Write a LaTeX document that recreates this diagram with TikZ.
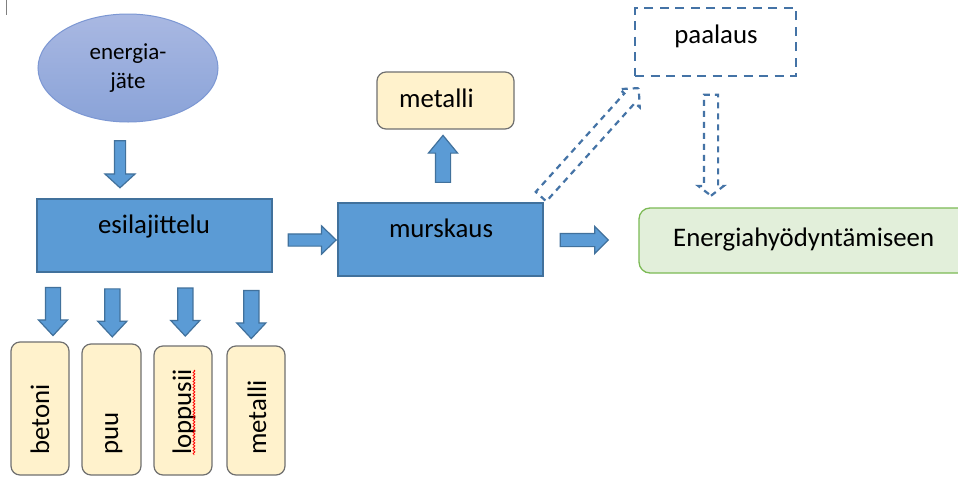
\documentclass[tikz,border=0pt]{standalone}
\usepackage{fontspec}
\setmainfont{Carlito}
\usetikzlibrary{shapes.geometric,shapes.arrows,decorations.pathmorphing}
\definecolor{boxblue}{HTML}{5B9BD5}
\definecolor{edgeblue}{HTML}{41719C}
\definecolor{cream}{HTML}{FFF2CC}
\definecolor{creamedge}{HTML}{707070}
\definecolor{lightgreen}{HTML}{E2EFDA}
\definecolor{greenedge}{HTML}{7CBA55}
\definecolor{elltop}{HTML}{A9B8E2}
\definecolor{ellbot}{HTML}{8AA3D8}
\definecolor{elledge}{HTML}{7C97D3}
\definecolor{dashblue}{HTML}{4473A6}
\begin{document}
\begin{tikzpicture}[x=1pt,y=-1pt,
  bluebox/.style={rectangle, draw=edgeblue, fill=boxblue, line width=1.6pt, inner sep=0pt},
  creambox/.style={rectangle, rounded corners=9pt, draw=creamedge, fill=cream, line width=1.2pt, inner sep=0pt},
  txt/.style={font=\fontsize{26.8}{30}\selectfont, inner sep=0pt, anchor=base},
  vtxt/.style={font=\fontsize{26.8}{30}\selectfont, inner sep=0pt, anchor=base west, rotate=90},
  barrow/.style={single arrow, draw=edgeblue, fill=boxblue, line width=1.2pt, inner xsep=0pt, text height=0pt, text depth=0pt, single arrow head indent=0pt},
  darrow/.style={single arrow, draw=dashblue, line width=2.2pt, dash pattern=on 6pt off 5pt, inner xsep=0pt, text height=0pt, text depth=0pt, single arrow head indent=0pt}
]
\useasboundingbox (0,0) rectangle (958,477);
\clip (0,0) rectangle (958,477);
\fill[white] (0,0) rectangle (958,477);
% cursor mark
\draw[gray, line width=1pt] (6,0) -- (6,15);
% ellipse
\node[ellipse, draw=elledge, line width=1pt, top color=elltop, bottom color=ellbot, minimum width=180, minimum height=108, inner sep=0pt, align=center, font=\fontsize{23}{29}\selectfont] (ell) at (128,68) {energia-\\jäte};
% main boxes
\node[bluebox, minimum width=235, minimum height=73] (esi) at (154.5,235.5) {};
\node[txt] (esit) at (154,233) {esilajittelu};
\node[bluebox, minimum width=205, minimum height=73] (mur) at (440.5,239.5) {};
\node[txt] (murt) at (441,237) {murskaus};
\node[creambox, minimum width=137, minimum height=57] (met) at (445.5,100.5) {};
\node[txt, anchor=base west] (mett) at (399,107) {metalli};
\node[rectangle, draw=dashblue, line width=2.5pt, dash pattern=on 9pt off 6.5pt, minimum width=161, minimum height=68, inner sep=0pt] (paa) at (715.5,42) {};
\node[txt] (paat) at (716,43) {paalaus};
\node[rectangle, rounded corners=11pt, draw=greenedge, fill=lightgreen, line width=1.3pt, minimum width=340, minimum height=65, inner sep=0pt] (eng) at (809,240.5) {};
\node[txt, anchor=base west] (engt) at (673,246) {Energiahyödyntämiseen};
% bottom boxes
\node[creambox, minimum width=58, minimum height=133] (b1) at (40,408.5) {};
\node[creambox, minimum width=59, minimum height=131] (b2) at (111.5,409.5) {};
\node[creambox, minimum width=58, minimum height=129] (b3) at (183,410.5) {};
\node[creambox, minimum width=58, minimum height=129] (b4) at (256,410.5) {};
\node[vtxt] (b1t) at (49,455) {betoni};
\node[vtxt] (b2t) at (118,455) {puu};
\node[vtxt] (b3t) at (191,455) {loppusii};
\node[vtxt] (b4t) at (266,455) {metalli};
\coordinate (sq1) at (194,370);
\coordinate (sq2) at (194,455);
\draw[red, line width=0.8pt, decorate, decoration={snake, amplitude=0.9pt, segment length=3pt}] (sq1) -- (sq2);
% block arrows
\node[barrow, rotate=-90, minimum height=47, minimum width=29, inner ysep=5pt, single arrow head extend=9.5pt, single arrow tip angle=95] (a0) at (120,161.7) {};
\node[barrow, rotate=-90, minimum height=48, minimum width=28, inner ysep=7pt, single arrow head extend=7pt, single arrow tip angle=86] (a1) at (53,307.5) {};
\node[barrow, rotate=-90, minimum height=48, minimum width=28, inner ysep=7pt, single arrow head extend=7pt, single arrow tip angle=86] (a2) at (112.3,308.8) {};
\node[barrow, rotate=-90, minimum height=48, minimum width=28, inner ysep=7pt, single arrow head extend=7pt, single arrow tip angle=86] (a3) at (185.3,308) {};
\node[barrow, rotate=-90, minimum height=48, minimum width=28, inner ysep=7pt, single arrow head extend=7pt, single arrow tip angle=86] (a4) at (251.3,310.5) {};
\node[barrow, minimum height=48, minimum width=27, inner ysep=5.5pt, single arrow head extend=8pt, single arrow tip angle=88] (r1) at (309,240) {};
\node[barrow, rotate=90, minimum height=47, minimum width=28, inner ysep=7pt, single arrow head extend=7pt, single arrow tip angle=79] (u1) at (443,163.5) {};
\node[barrow, minimum height=48, minimum width=26, inner ysep=6pt, single arrow head extend=7pt, single arrow tip angle=90] (r2) at (581,240) {};
% dashed hollow arrows
\node[darrow, rotate=48, minimum height=146, minimum width=25, inner ysep=6pt, single arrow head extend=6.5pt, single arrow tip angle=90] (d1) at (587.5,145) {};
\node[darrow, rotate=-90, minimum height=101, minimum width=23, inner ysep=6pt, single arrow head extend=5.5pt, single arrow tip angle=105] (d2) at (711,142.5) {};
\end{tikzpicture}
\end{document}
